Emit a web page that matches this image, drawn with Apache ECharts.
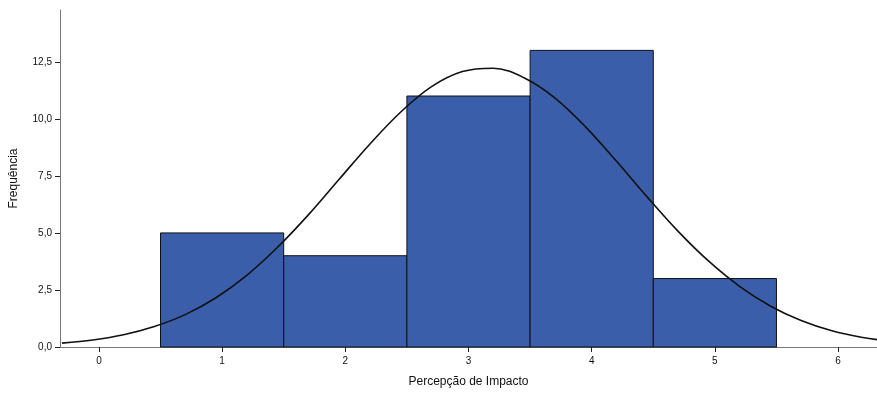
<!DOCTYPE html>
<html><head><meta charset="utf-8">
<script src="https://cdn.jsdelivr.net/npm/echarts@6/dist/echarts.min.js"></script>
<style>html,body{margin:0;padding:0;background:#fff}#c{width:877px;height:393px}</style>
</head><body><div id="c"></div>
<script>
// Histogram bins (centre values) and frequencies
const binCenters = [1, 2, 3, 4, 5];
const frequencies = [5, 4, 11, 13, 3];
const binWidth = 1;
// Normal curve (x, frequency)
const curveX = [-0.3, -0.05, 0.2, 0.45, 0.7, 0.95, 1.2, 1.45, 1.7, 1.95, 2.2, 2.45, 2.7, 2.95, 3.2, 3.45, 3.7, 3.95, 4.2, 4.45, 4.7, 4.95, 5.2, 5.45, 5.7, 5.95, 6.2, 6.45];
const curveY = [0.17, 0.31, 0.54, 0.9, 1.42, 2.16, 3.14, 4.37, 5.79, 7.35, 8.9, 10.3, 11.41, 12.07, 12.22, 11.8, 10.92, 9.65, 8.15, 6.58, 5.08, 3.76, 2.66, 1.8, 1.16, 0.71, 0.42, 0.23];
const xTicks = [0, 1, 2, 3, 4, 5, 6];
const yTicks = [0, 2.5, 5, 7.5, 10, 12.5];

const chart = echarts.init(document.getElementById('c'), null, {renderer: 'canvas'});
const fmt = v => v.toFixed(1).replace('.', ',');
chart.setOption({
  animation: false,
  grid: {left: 58, right: 0, top: 10, bottom: 45},
  xAxis: {
    type: 'value', min: -0.316, max: 6.316,
    name: 'Percepção de Impacto', nameLocation: 'middle', nameGap: 29,
    nameTextStyle: {fontFamily: 'Liberation Sans, Arial', fontSize: 12, color: '#111'},
    axisLine: {show: true, onZero: false, lineStyle: {color: '#777', width: 1}},
    axisTick: {show: true, length: 5, customValues: xTicks, lineStyle: {color: '#222'}},
    axisLabel: {customValues: xTicks, fontFamily: 'Liberation Sans, Arial', fontSize: 10, color: '#111', margin: 9},
    splitLine: {show: false}
  },
  yAxis: {
    type: 'value', min: 0, max: 14.77,
    name: 'Frequência', nameLocation: 'middle', nameGap: 40, nameRotate: 90,
    nameTextStyle: {fontFamily: 'Liberation Sans, Arial', fontSize: 12, color: '#111'},
    axisLine: {show: true, onZero: false, lineStyle: {color: '#777', width: 1}},
    axisTick: {show: true, length: 5, customValues: yTicks, lineStyle: {color: '#222'}},
    axisLabel: {customValues: yTicks, formatter: fmt, fontFamily: 'Liberation Sans, Arial', fontSize: 10, color: '#111', margin: 8},
    splitLine: {show: false}
  },
  series: [
    {
      type: 'custom',
      data: binCenters.map((c, i) => [c, frequencies[i]]),
      renderItem: function (params, api) {
        const c = api.value(0), f = api.value(1);
        const p0 = api.coord([c - binWidth / 2, f]);
        const p1 = api.coord([c + binWidth / 2, 0]);
        return {
          type: 'rect',
          shape: {x: p0[0], y: p0[1], width: p1[0] - p0[0], height: p1[1] - p0[1]},
          style: {fill: '#3B5EAA', stroke: '#111', lineWidth: 1}
        };
      },
      z: 2
    },
    {
      type: 'line',
      data: curveX.map((x, i) => [x, curveY[i]]),
      smooth: 0.35, showSymbol: false, clip: true,
      lineStyle: {color: '#111', width: 1.6},
      z: 3
    }
  ]
});
</script></body></html>
